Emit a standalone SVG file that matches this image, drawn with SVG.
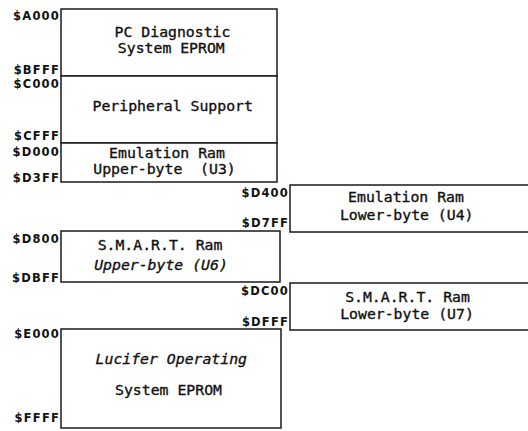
<svg xmlns="http://www.w3.org/2000/svg" width="528" height="431" viewBox="0 0 528 431">
<style>
.box{fill:#fff;stroke:#1a1a1a;stroke-width:1.5}
.t{font-family:"DejaVu Sans Mono","Liberation Mono",monospace;font-size:14.8px;fill:#111;stroke:#111;stroke-width:0.35;text-anchor:middle;white-space:pre}
.i{font-style:italic}
.a{font-family:"DejaVu Sans","Liberation Sans",sans-serif;font-weight:bold;font-size:11.5px;letter-spacing:1.2px;fill:#111;text-anchor:end}
</style>
<rect width="528" height="431" fill="#fff"/>
<g id="connectors"/>
<g id="node-a000">
<rect class="box" x="61" y="9" width="216" height="67"/>
<text class="t" x="172.5" y="37">PC Diagnostic</text>
<text class="t" x="171.3" y="53">System EPROM</text>
<text class="a" x="60" y="20">$A000</text>
<text class="a" x="60" y="73.5">$BFFF</text>
</g>
<g id="node-c000">
<rect class="box" x="61" y="76" width="216" height="67"/>
<text class="t" x="172.7" y="111">Peripheral Support</text>
<text class="a" x="60" y="88">$C000</text>
<text class="a" x="60" y="140">$CFFF</text>
</g>
<g id="node-d000">
<rect class="box" x="61" y="143" width="216" height="39"/>
<text class="t" x="167" y="158">Emulation Ram</text>
<text class="t" x="164.5" y="174" xml:space="preserve">Upper-byte  (U3)</text>
<text class="a" x="60" y="155.5">$D000</text>
<text class="a" x="60" y="181.5">$D3FF</text>
</g>
<g id="node-d400">
<rect class="box" x="290" y="185" width="250" height="47"/>
<text class="t" x="406" y="202">Emulation Ram</text>
<text class="t" x="406.7" y="220">Lower-byte (U4)</text>
<text class="a" x="289" y="197">$D400</text>
<text class="a" x="289" y="227">$D7FF</text>
</g>
<g id="node-d800">
<rect class="box" x="61" y="231" width="219" height="51"/>
<text class="t" x="160" y="250">S.M.A.R.T. Ram</text>
<text class="t i" x="161" y="270">Upper-byte (U6)</text>
<text class="a" x="60" y="243">$D800</text>
<text class="a" x="60" y="282">$DBFF</text>
</g>
<g id="node-dc00">
<rect class="box" x="290" y="283" width="250" height="47"/>
<text class="t" x="407.5" y="302">S.M.A.R.T. Ram</text>
<text class="t" x="407" y="319">Lower-byte (U7)</text>
<text class="a" x="289" y="295">$DC00</text>
<text class="a" x="289" y="326">$DFFF</text>
</g>
<g id="node-e000">
<rect class="box" x="61" y="329" width="220" height="99"/>
<text class="t i" x="171.3" y="363.5">Lucifer Operating</text>
<text class="t" x="168.5" y="395">System EPROM</text>
<text class="a" x="60" y="338">$E000</text>
<text class="a" x="60" y="422">$FFFF</text>
</g>
</svg>
